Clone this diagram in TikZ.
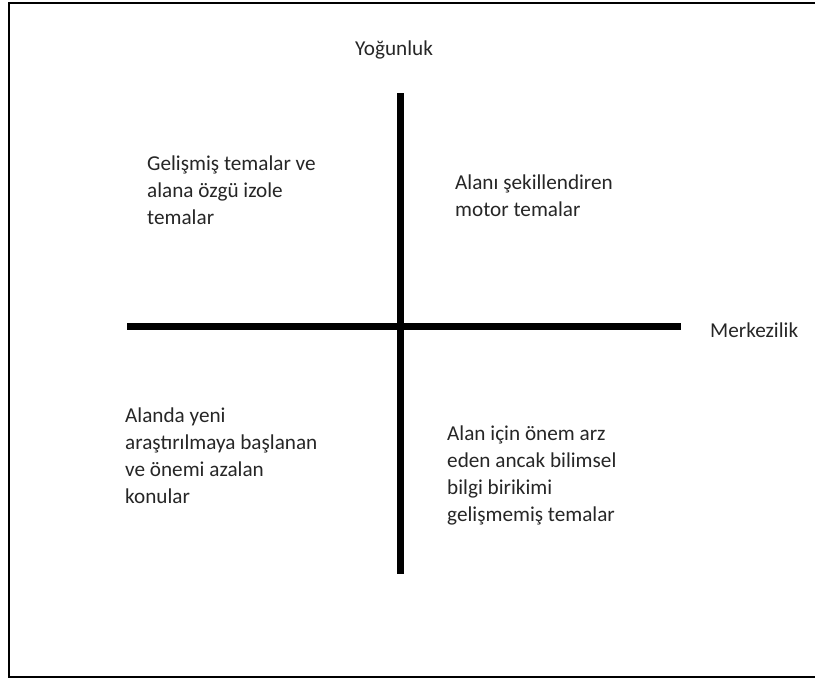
\documentclass[tikz,border=0pt]{standalone}
\usepackage{fontspec}
\setmainfont{Carlito}
\begin{document}
\begin{tikzpicture}[x=1pt,y=-1pt,
  axis/.style={line width=7pt},
  frame/.style={line width=2pt},
  lbl/.style={inner sep=0pt,anchor=base west,align=left,text=black!85,font=\fontsize{21.2}{27}\selectfont}]
\useasboundingbox (0,0) rectangle (815,678);
\coordinate (fa) at (815,3);
\coordinate (fb) at (9,3);
\coordinate (fc) at (9,677);
\coordinate (fd) at (815,677);
\draw[frame] (fa) -- (fb) -- (fc) -- (fd);
\coordinate (vt) at (400,93);
\coordinate (vb) at (400,574);
\coordinate (hl) at (127,326.5);
\coordinate (hr) at (681,326.5);
\draw[axis] (vt) -- (vb);
\draw[axis] (hl) -- (hr);
\node[lbl] (yog) at (355,55) {Yoğunluk};
\node[lbl] (mer) at (710,337) {Merkezilik};
\node[lbl] (q1) at (147,224) {Gelişmiş temalar ve\\alana özgü izole\\temalar};
\node[lbl] (q2) at (455,216) {Alanı şekillendiren\\motor temalar};
\node[lbl] (q3) at (125,503) {Alanda yeni\\araştırılmaya başlanan\\ve önemi azalan\\konular};
\node[lbl] (q4) at (447,521) {Alan için önem arz\\eden ancak bilimsel\\bilgi birikimi\\gelişmemiş temalar};
\end{tikzpicture}
\end{document}
